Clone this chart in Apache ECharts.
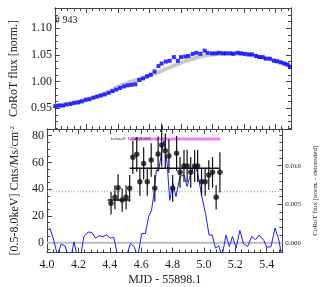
<!DOCTYPE html>
<html><head><meta charset="utf-8">
<script src="https://cdn.jsdelivr.net/npm/echarts@6/dist/echarts.min.js"></script>
<style>html,body{margin:0;padding:0;background:#fff}#c{width:327px;height:287px}</style>
</head><body><div id="c"></div>
<script>
// ---- data ----
const fluxX = [4.002,4.026,4.051,4.074,4.099,4.123,4.148,4.171,4.196,4.220,4.245,4.269,4.293,4.317,4.342,4.366,4.390,4.414,4.439,4.463,4.487,4.511,4.536,4.560,4.585,4.609,4.633,4.658,4.678,4.705,4.729,4.756,4.781,4.801,4.828,4.848,4.875,4.899,4.924,4.951,4.971,4.998,5.022,5.043,5.068,5.088,5.114,5.135,5.160,5.182,5.206,5.231,5.252,5.278,5.299,5.320,5.340,5.366,5.391,5.412,5.436,5.457,5.477,5.493];
const fluxY = [0.954,0.955,0.955,0.957,0.958,0.960,0.961,0.963,0.966,0.967,0.970,0.972,0.974,0.976,0.979,0.982,0.985,0.988,0.991,0.993,0.994,0.995,1.003,1.006,1.010,1.013,1.019,1.029,1.034,1.0375,1.039,1.046,1.039,1.046,1.047,1.048,1.052,1.054,1.052,1.058,1.054,1.053,1.053,1.054,1.053,1.053,1.053,1.052,1.054,1.053,1.052,1.051,1.051,1.048,1.046,1.046,1.043,1.043,1.039,1.038,1.036,1.034,1.032,1.028];
const modelX = [4.0,4.103,4.207,4.310,4.413,4.465,4.516,4.620,4.723,4.826,4.929,5.033,5.136,5.239,5.342,5.446,5.497];
const modelY = [0.955,0.960,0.967,0.977,0.992,0.998,1.003,1.013,1.026,1.038,1.047,1.052,1.053,1.050,1.044,1.035,1.029];

const xrayX = [4.408,4.433,4.453,4.479,4.504,4.527,4.547,4.572,4.592,4.616,4.639,4.664,4.687,4.708,4.731,4.754,4.777,4.801,4.826,4.848,4.873,4.893,4.916,4.941,4.960,4.985,5.008,5.031,5.055,5.078,5.102];
const xrayY = [29.5,34,41.1,31.9,34,40.7,63.8,66.1,45.6,59.3,45.6,61.8,40.7,66.3,73,68.7,64.8,40.7,66.8,52.6,57.3,57.3,52.6,57.3,57.3,45.6,45.6,50.6,52.6,33.9,52.6];
const xrayErr = [8.5,9,10,8.7,9,10,12.5,13,10.5,12,10.5,12.5,10,13,16,13,12.5,10,13,11.5,12,12,11.5,12,12,10.5,10.5,11,11.5,9,15];

const blockStart = [4.387,4.527];
const blockEnd = [4.527,5.100];
const blockLevel = [31.9,55.6];

const ratioX = [4.527,5.105];
const ratioLevel = 77.5;
const meanLevel = 38.1;

const detX = [4.019,4.043,4.066,4.090,4.114,4.134,4.155,4.172,4.193,4.214,4.235,4.263,4.287,4.310,4.330,4.356,4.380,4.403,4.426,4.451,4.475,4.506,4.532,4.555,4.578,4.604,4.627,4.648,4.666,4.679,4.697,4.712,4.731,4.746,4.766,4.782,4.802,4.822,4.848,4.873,4.893,4.916,4.941,4.961,4.985,5.012,5.033,5.053,5.074,5.095,5.115,5.141,5.162,5.182,5.206,5.229,5.252,5.278,5.305,5.330,5.351,5.382,5.401,5.428,5.453,5.477,5.497];
const detY = [0.0019,0.0003,-0.0016,-0.0002,-0.0004,-0.0016,-0.0016,0.0001,-0.0018,-0.0018,0.0008,0.0014,0.0013,0.0006,0.0009,0.0008,0.0010,0.0006,0.0007,-0.0018,-0.0020,-0.0018,-0.0001,-0.0005,-0.0018,0.0012,0.0012,0.0034,0.0042,0.0060,0.0094,0.0094,0.0118,0.0133,0.0103,0.0055,0.0077,0.0060,0.0086,0.0088,0.0073,0.0090,0.0101,0.0090,0.0062,0.0036,0.0010,0.0010,-0.0007,-0.0004,-0.0018,0.0010,-0.0005,0.0008,-0.0007,0.0016,-0.0001,-0.0005,0.0008,0.0004,0.0010,0.0003,-0.0006,-0.0005,0.0019,0.0004,-0.0018];

const xTickLabels = [4.0,4.2,4.4,4.6,4.8,5.0,5.2,5.4];
const fluxTickLabels = [0.95,1.00,1.05,1.10];
const rateTickLabels = [0,20,40,60,80];
const detTickLabels = [0.000,0.005,0.010];

// ---- layout ----
const XMIN = 4.0, XMAX = 5.5;
const FMIN = 0.9112, FMAX = 1.138;
const RMIN = -7.33, RMAX = 85.0;
const DMIN = -0.00127, DMAX = 0.01477;
function range(a,b,s){const r=[];for(let v=a;v<=b+1e-9;v+=s)r.push(+v.toFixed(6));return r;}
const xMinor = range(4.0,5.48,0.04);
const fMinor = range(0.9125,1.1375,0.0125);
const rMinor = range(-5,85,5);
const dMinor = range(-0.001,0.014,0.001);

const FONT = 'Liberation Serif';
const frame = '#444';
function xAx(grid, pos, ticks, len, labels, name){
  return {type:'value', gridIndex:grid, position:pos, min:XMIN, max:XMAX,
    axisLine:{show:true, onZero:false, lineStyle:{color:frame,width:1}},
    axisTick:{show:true, inside:true, length:len, customValues:ticks, lineStyle:{color:frame}},
    axisLabel:{show:!!labels, customValues:labels||[], formatter:v=>v.toFixed(1), fontFamily:FONT, fontSize:12, color:'#222', margin:6},
    splitLine:{show:false},
    name:name||'', nameLocation:'middle', nameGap:21, nameTextStyle:{fontFamily:FONT,fontSize:12,color:'#222'}};
}
function yAx(grid, pos, min, max, ticks, len, labels, fmt, fs, name, nameGap, nameFs){
  return {type:'value', gridIndex:grid, position:pos, min:min, max:max,
    axisLine:{show:true, onZero:false, lineStyle:{color:frame,width:1}},
    axisTick:{show:true, inside:true, length:len, customValues:ticks, lineStyle:{color:frame}},
    axisLabel:{show:!!labels, customValues:labels||[], formatter:fmt, fontFamily:FONT, fontSize:fs||12, color:'#222', margin:3},
    splitLine:{show:false},
    name:name||'', nameLocation:'middle', nameGap:nameGap||30,
    nameTextStyle:{fontFamily:FONT,fontSize:nameFs||12,color:'#222', rich:{sup:{fontSize:7, verticalAlign:'top', fontFamily:FONT, color:'#222', padding:[0,0,6,0]}}}};
}

const xAxis = [
  xAx(0,'bottom',xTickLabels,5), xAx(0,'top',xTickLabels,5),
  xAx(0,'bottom',xMinor,3), xAx(0,'top',xMinor,3),
  xAx(1,'bottom',xTickLabels,5,xTickLabels,'MJD - 55898.1'), xAx(1,'top',xTickLabels,5),
  xAx(1,'bottom',xMinor,3), xAx(1,'top',xMinor,3)
];
const yAxis = [
  yAx(0,'left',FMIN,FMAX,fluxTickLabels,5,fluxTickLabels,v=>v.toFixed(2),12,'CoRoT flux [norm.]',31),
  yAx(0,'left',FMIN,FMAX,fMinor,3),
  yAx(0,'right',FMIN,FMAX,fluxTickLabels,5),
  yAx(0,'right',FMIN,FMAX,fMinor,3),
  yAx(1,'left',RMIN,RMAX,rateTickLabels,5,rateTickLabels,v=>String(v),12,'[0.5-8.0keV] Cnts/Ms/cm{sup|-2}',25),
  yAx(1,'left',RMIN,RMAX,rMinor,3),
  yAx(1,'right',DMIN,DMAX,detTickLabels,5,detTickLabels,v=>v.toFixed(3),7,'CoRoT flux [norm. - detrended]',23,7),
  yAx(1,'right',DMIN,DMAX,dMinor,3)
];

const series = [
  {type:'line', xAxisIndex:0, yAxisIndex:0, data:modelX.map((x,i)=>[x,modelY[i]]), smooth:true, showSymbol:false,
   lineStyle:{color:'#c8c8c8', width:4}, z:1},
  {type:'scatter', xAxisIndex:0, yAxisIndex:0, data:fluxX.map((x,i)=>[x,fluxY[i]]), symbol:'rect', symbolSize:4,
   itemStyle:{color:'#0000ff'}, z:3},
  {type:'line', xAxisIndex:4, yAxisIndex:6, data:detX.map((x,i)=>[x,detY[i]]), showSymbol:false,
   lineStyle:{color:'#1a1aff', width:1}, z:2, clip:true},
  {type:'line', xAxisIndex:4, yAxisIndex:4, data:[[XMIN,0],[XMAX,0]], showSymbol:false, lineStyle:{color:'#bdbdbd',width:2}, z:1},
  {type:'line', xAxisIndex:4, yAxisIndex:4, data:[[XMIN,meanLevel],[XMAX,meanLevel]], showSymbol:false, lineStyle:{color:'#999',width:1,type:[1,2]}, z:1},
  {type:'line', xAxisIndex:4, yAxisIndex:4, data:ratioX.map(x=>[x,ratioLevel]), showSymbol:false, lineStyle:{color:'#ee82ee',width:3}, z:2},
  ...blockStart.map((s,i)=>({type:'line', xAxisIndex:4, yAxisIndex:4, data:[[s,blockLevel[i]],[blockEnd[i],blockLevel[i]]], showSymbol:false, lineStyle:{color:'#111',width:1.5}, z:4})),
  {type:'custom', xAxisIndex:4, yAxisIndex:4, data:xrayX.map((x,i)=>[x,xrayY[i],xrayErr[i]]),
   renderItem:(params,api)=>{const x=api.value(0),y=api.value(1),e=api.value(2);
     const p1=api.coord([x,y-e]), p2=api.coord([x,y+e]);
     return {type:'line', shape:{x1:p1[0],y1:p1[1],x2:p2[0],y2:p2[1]}, style:{stroke:'#111',lineWidth:1.2}};}, z:5},
  {type:'scatter', xAxisIndex:4, yAxisIndex:4, data:xrayX.map((x,i)=>[x,xrayY[i]]), symbol:'circle', symbolSize:5.5,
   itemStyle:{color:'#111'}, z:6}
];

const chart = echarts.init(document.getElementById('c'), null, {renderer:'canvas'});
chart.setOption({
  animation:false,
  backgroundColor:'#fff',
  grid:[{left:47, top:8, width:244, height:121}, {left:47, top:129, width:244, height:123.5}],
  title:[
    {text:'# 943', left:50, top:10, textStyle:{fontFamily:FONT, fontSize:10, fontWeight:'normal', color:'#222'}},
    {text:'t{s|u}/t{s|un,all}=1.541|0.001', left:106, top:131, textStyle:{fontFamily:FONT, fontSize:5, fontWeight:'normal', color:'#222', rich:{s:{fontSize:3.5, fontFamily:FONT, color:'#222', verticalAlign:'bottom'}}}}
  ],
  xAxis, yAxis, series
});
</script></body></html>
